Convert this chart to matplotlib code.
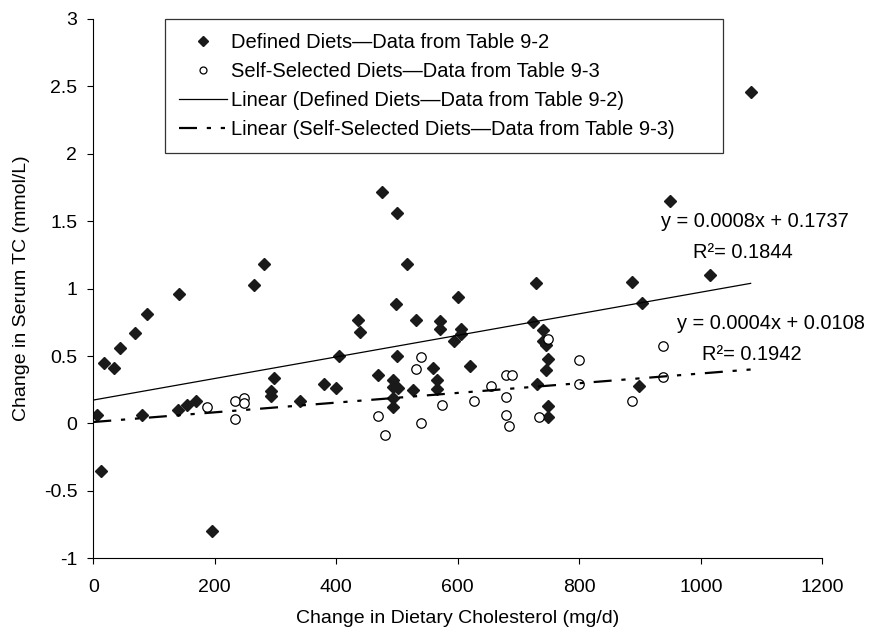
import matplotlib
matplotlib.use('Agg')
from matplotlib import pyplot as plt
import numpy as np

plt.rcParams['font.family'] = ['Liberation Sans', 'DejaVu Sans']
plt.rcParams['axes.unicode_minus'] = False

# Defined diets (Table 9-2): change in dietary cholesterol (mg/d), change in serum TC (mmol/L)
defined_x = [6, 12, 17, 34, 44, 68, 89, 141, 265, 281, 81, 140, 154, 169, 297, 292, 292, 341, 196,
             475, 500, 516, 728, 498, 600, 435, 439, 531, 570, 570, 606, 606, 593, 724, 741, 740,
             746, 404, 500, 620, 749, 745, 559, 468, 380, 399, 494, 494, 501, 526, 565, 565, 494,
             494, 730, 749, 749, 886, 1015, 903, 898, 1082, 950]
defined_y = [0.06, -0.35, 0.445, 0.41, 0.56, 0.67, 0.81, 0.96, 1.03, 1.18, 0.06, 0.10, 0.14, 0.165,
             0.34, 0.24, 0.205, 0.165, -0.80,
             1.72, 1.56, 1.18, 1.04, 0.885, 0.94, 0.765, 0.675, 0.765, 0.76, 0.70, 0.70, 0.66, 0.615,
             0.75, 0.695, 0.615, 0.585, 0.50, 0.50, 0.43, 0.475, 0.395, 0.41, 0.36, 0.29, 0.265,
             0.325, 0.27, 0.26, 0.25, 0.325, 0.255, 0.19, 0.12, 0.29, 0.13, 0.05, 1.05, 1.10, 0.89,
             0.28, 2.46, 1.65]

# Self-selected diets (Table 9-3)
self_x = [187, 233, 233, 248, 248, 539, 531, 468, 480, 539, 574, 626, 654, 679, 690, 679, 679, 685,
          733, 749, 799, 799, 937, 937, 886]
self_y = [0.125, 0.17, 0.035, 0.19, 0.15, 0.495, 0.405, 0.055, -0.085, 0.0, 0.135, 0.17, 0.275,
          0.36, 0.36, 0.195, 0.065, -0.015, 0.05, 0.63, 0.47, 0.29, 0.575, 0.345, 0.165]

# linear trend coefficients (slope, intercept) and the printed equations
defined_fit = (0.0008, 0.1737)
self_fit = (0.00036, 0.0108)
defined_eq = ['y = 0.0008x + 0.1737', 'R\u00b2= 0.1844']
self_eq = ['y = 0.0004x + 0.0108', 'R\u00b2= 0.1942']

labels = ['Defined Diets\u2014Data from Table 9-2',
          'Self-Selected Diets\u2014Data from Table 9-3',
          'Linear (Defined Diets\u2014Data from Table 9-2)',
          'Linear (Self-Selected Diets\u2014Data from Table 9-3)']

fig = plt.figure(figsize=(8.7, 6.31), dpi=100)
ax = fig.add_axes([0.1072, 0.1152, 0.838, 0.8547])

ax.plot(defined_x, defined_y, linestyle='none', marker='D', markersize=6.3,
        color='#1a1a1a', label=labels[0])
ax.plot(self_x, self_y, linestyle='none', marker='o', markersize=6.8,
        markerfacecolor='white', markeredgecolor='black', markeredgewidth=0.9,
        label=labels[1])

# trend lines over the data range
xs = np.array([0, max(defined_x)])
ax.plot(xs, defined_fit[0] * xs + defined_fit[1], color='black', linewidth=0.9,
        label=labels[2])
ax.plot(xs, self_fit[0] * xs + self_fit[1], color='black', linewidth=1.6,
        dashes=(8.1, 4.4, 1.9, 4.4, 1.9, 4.4), label=labels[3])

# equation labels
ax.text(1089, 1.495, defined_eq[0], fontsize=14.4, ha='center', va='center')
ax.text(1069, 1.265, defined_eq[1], fontsize=14.4, ha='center', va='center')
ax.text(1115, 0.738, self_eq[0], fontsize=14.4, ha='center', va='center')
ax.text(1084, 0.508, self_eq[1], fontsize=14.4, ha='center', va='center')

ax.set_xlim(0, 1200)
ax.set_ylim(-1, 3)
ax.set_xticks(np.arange(0, 1201, 200))
ax.set_yticks(np.arange(-1, 3.01, 0.5))
ax.set_yticklabels(['-1', '-0.5', '0', '0.5', '1', '1.5', '2', '2.5', '3'])
ax.tick_params(direction='out', length=4.5, width=0.8, labelsize=14, colors='black')
ax.tick_params(axis='x', pad=10.5)
ax.tick_params(axis='y', pad=7)
ax.spines['top'].set_visible(False)
ax.spines['right'].set_visible(False)
ax.set_xlabel('Change in Dietary Cholesterol (mg/d)', fontsize=14, labelpad=10)
ax.set_ylabel('Change in Serum TC (mmol/L)', fontsize=14, labelpad=10)

leg = ax.legend(loc='upper left', bbox_to_anchor=(0.0984, 0.0, 0.7654, 1.0), mode='expand',
                borderaxespad=0, fontsize=14.5, frameon=True, fancybox=False,
                handlelength=2.4, handletextpad=0.2, labelspacing=0.5, borderpad=0.7)
leg.get_frame().set_edgecolor('black')
leg.get_frame().set_linewidth(0.9)
leg.legend_handles[0].set_markersize(4.6)
leg.legend_handles[1].set_markersize(5)

fig.savefig('out.png', dpi=100)
